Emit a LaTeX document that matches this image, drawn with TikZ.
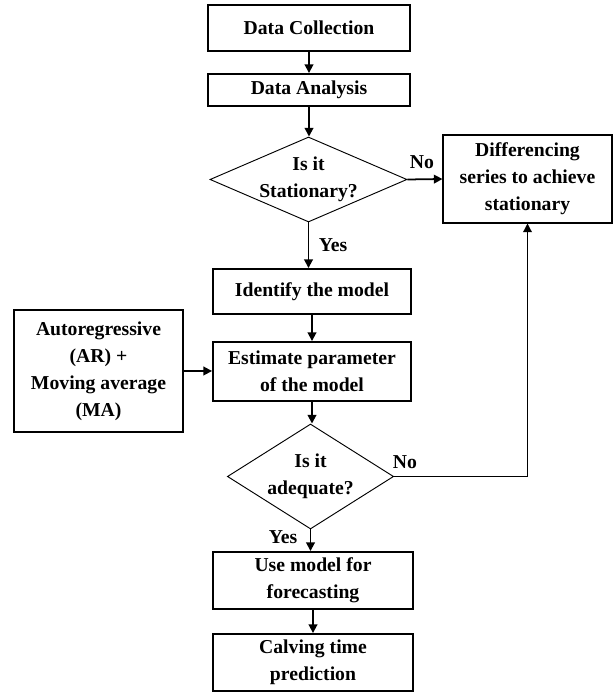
\documentclass[tikz,border=0pt]{standalone}
\usepackage{fontspec}
\setmainfont{Liberation Serif}
\usepackage{tikz}
\usetikzlibrary{arrows.meta,positioning,shapes.geometric}
\tikzset{
  ar/.style={-{Triangle[length=2.6mm,width=2.6mm]},line width=1.5pt},
  box/.style={draw,line width=1.6pt,align=center,inner sep=2pt,minimum width=6cm},
  tbox/.style={draw,line width=0.9pt,align=center,inner sep=2pt,minimum width=5.07cm},
  dec/.style={diamond,draw,line width=0.8pt,align=center,inner sep=-3pt,aspect=2.3}
}

\begin{document}
\begin{tikzpicture}[font=\fontsize{16.8}{23}\selectfont\bfseries]
\useasboundingbox (0,0) rectangle (18.45,20.79);
\node[box,minimum width=6.06cm,minimum height=1.38cm] (col) at (9.27,19.95) {Data Collection};
\node[box,minimum width=6.06cm,minimum height=0.96cm] (ana) at (9.27,18.09) {Data Analysis};
\node[dec,minimum width=5.91cm,minimum height=2.55cm] (sta) at (9.255,15.405) {Is it\\Stationary?};
\node[tbox,minimum height=2.64cm] (dif) at (15.825,15.42) {Differencing\\series to achieve\\stationary};
\node[box,minimum width=5.94cm,minimum height=1.35cm] (idf) at (9.36,12.045) {Identify the model};
\node[box,minimum width=5.94cm,minimum height=1.77cm] (est) at (9.36,9.645) {Estimate parameter\\of the model};
\node[tbox,minimum height=3.66cm] (arma) at (2.955,9.66) {Autoregressive\\(AR) +\\Moving average\\(MA)};
\node[dec,minimum width=4.65cm,minimum height=3.15cm] (ade) at (9.315,6.495) {Is it\\adequate?};
\node[box,minimum height=1.71cm] (use) at (9.39,3.375) {Use model for\\forecasting};
\node[box,minimum height=1.71cm] (cal) at (9.39,0.915) {Calving time\\prediction};
% decision labels
\node (no1) at (12.66,15.93) {No};
\node (yes1) at (9.99,13.44) {Yes};
\node (no2) at (12.15,6.93) {No};
\node (yes2) at (8.49,4.68) {Yes};

\draw[ar] (col) -- (ana);
\draw[ar] (ana.south) -- (ana.south |- sta.north);
\draw[ar] (sta.east) -- (dif.west);
\draw[ar] (sta.south) -- (sta.south |- idf.north);
\draw[ar] (idf) -- (est);
\draw[ar] (arma.east) -- (arma.east -| est.west);
\draw[ar] (est.south) -- (est.south |- ade.north);
\draw[ar] (ade.south) -- (ade.south |- use.north);
\draw[ar] (use.south) -- (use.south |- cal.north);
\draw[ar,line width=1.1pt] (ade.east) -| (dif.south);
\end{tikzpicture}
\end{document}
